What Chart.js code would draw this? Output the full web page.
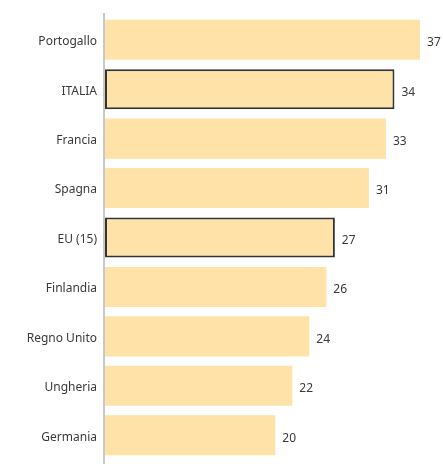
<!DOCTYPE html>
<html>
<head>
<meta charset="utf-8">
<script src="https://cdn.jsdelivr.net/npm/chart.js@4"></script>
<style>
  html, body { margin: 0; padding: 0; background: #fff; }
  #wrap { width: 443px; height: 464px; position: relative; }
</style>
</head>
<body>
<div id="wrap"><canvas id="myChart"></canvas></div>
<script>
// data
const countries = ['Portogallo', 'ITALIA', 'Francia', 'Spagna', 'EU (15)', 'Finlandia', 'Regno Unito', 'Ungheria', 'Germania'];
const values = [37, 34, 33, 31, 27, 26, 24, 22, 20];
const highlighted = ['ITALIA', 'EU (15)'];

const barColor = '#fee2a7';
const textColor = '#3a3a3a';
const fontFamily = "'Noto Sans', 'Open Sans', sans-serif";

// value labels after bars
const valueLabels = {
  id: 'valueLabels',
  afterDatasetsDraw(chart) {
    const ctx = chart.ctx;
    const meta = chart.getDatasetMeta(0);
    ctx.save();
    ctx.fillStyle = textColor;
    ctx.font = '12px ' + fontFamily;
    ctx.textAlign = 'left';
    ctx.textBaseline = 'middle';
    meta.data.forEach((bar, i) => {
      ctx.fillText(String(values[i]), bar.x + 7, bar.y + 3);
    });
    ctx.restore();
  }
};

// vertical axis line, a bit longer than the plot area
const axisLine = {
  id: 'axisLine',
  afterDraw(chart) {
    const ctx = chart.ctx;
    const a = chart.chartArea;
    ctx.save();
    ctx.strokeStyle = '#c8c8c8';
    ctx.lineWidth = 2;
    ctx.beginPath();
    ctx.moveTo(a.left - 1, 13);
    ctx.lineTo(a.left - 1, chart.height);
    ctx.stroke();
    ctx.restore();
  }
};

const config = {
  type: 'bar',
  data: {
    labels: countries,
    datasets: [{
      data: values,
      backgroundColor: barColor,
      borderColor: countries.map(c => highlighted.includes(c) ? '#333333' : barColor),
      borderWidth: countries.map(c => highlighted.includes(c) ? 2 : 0),
      borderSkipped: false,
      categoryPercentage: 0.81,
      barPercentage: 1
    }]
  },
  options: {
    indexAxis: 'y',
    responsive: true,
    maintainAspectRatio: false,
    animation: false,
    layout: { padding: { top: 15, bottom: 4, left: 0, right: 0 } },
    plugins: {
      legend: { display: false },
      tooltip: { enabled: false }
    },
    scales: {
      x: {
        min: 0,
        max: 39.7,
        display: false,
        grid: { display: false }
      },
      y: {
        afterFit(scale) {
          scale.width = 105;
          scale.paddingTop = 0;
          scale.paddingBottom = 0;
        },
        grid: { display: false, drawTicks: false },
        border: { display: false },
        ticks: {
          padding: 8,
          labelOffset: 2,
          color: textColor,
          font: { size: 12, family: fontFamily }
        }
      }
    }
  },
  plugins: [valueLabels, axisLine]
};

const myChart = new Chart(document.getElementById('myChart'), config);
</script>
</body>
</html>
